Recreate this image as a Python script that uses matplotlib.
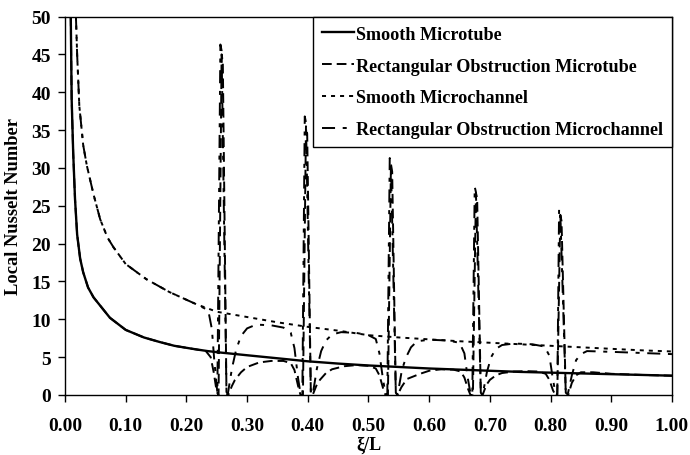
import matplotlib
matplotlib.use("Agg")
import matplotlib.pyplot as plt

plt.rcParams['font.family'] = ['Liberation Serif', 'DejaVu Serif']
plt.rcParams['font.weight'] = 'bold'
plt.rcParams['lines.scale_dashes'] = False

# ---------------- data ----------------
smooth_tube_x = [0.0095, 0.011, 0.0135, 0.0165, 0.020, 0.025, 0.030, 0.038, 0.047, 0.058, 0.074, 0.10,
                 0.13, 0.156, 0.18, 0.21, 0.235, 0.257, 0.30, 0.35, 0.40, 0.45, 0.50,
                 0.55, 0.60, 0.65, 0.70, 0.75, 0.80, 0.85, 0.90, 0.95, 1.00]
smooth_tube_y = [50, 39, 32, 25.9, 21.2, 18.0, 16.2, 14.2, 12.9, 11.8, 10.2, 8.6,
                 7.6, 7.0, 6.5, 6.1, 5.8, 5.6, 5.25, 4.85, 4.45, 4.15, 3.9,
                 3.7, 3.5, 3.35, 3.2, 3.05, 2.95, 2.85, 2.75, 2.65, 2.55]

obst_tube_x = [0.0095, 0.011, 0.0135, 0.0165, 0.020, 0.025, 0.030, 0.038, 0.047, 0.058, 0.074, 0.10,
               0.13, 0.156, 0.18, 0.21, 0.232, 0.240, 0.245, 0.250, 0.253, 0.258, 0.260, 0.266, 0.269,
               0.275, 0.28, 0.29, 0.30, 0.32, 0.34, 0.36, 0.372, 0.378, 0.384, 0.388,
               0.392, 0.397, 0.399, 0.405, 0.408,
               0.414, 0.42, 0.43, 0.44, 0.46, 0.48, 0.50, 0.512, 0.518, 0.524, 0.528,
               0.532, 0.537, 0.539, 0.545, 0.548,
               0.554, 0.563, 0.585, 0.60, 0.62, 0.64, 0.652, 0.658, 0.664, 0.668,
               0.672, 0.677, 0.679, 0.685, 0.688,
               0.694, 0.70, 0.71, 0.72, 0.74, 0.76, 0.78, 0.792, 0.798, 0.804, 0.808,
               0.811, 0.816, 0.818, 0.825, 0.829,
               0.835, 0.842, 0.85, 0.87, 0.90, 0.95, 1.00]
obst_tube_y = [50, 39, 32, 25.9, 21.2, 18.0, 16.2, 14.2, 12.9, 11.8, 10.2, 8.6,
               7.6, 7.0, 6.5, 6.1, 5.8, 5.0, 3.0, 0.4, 0.0, 45.0, 44.0, 0.4, 0.0,
               1.2, 2.0, 3.0, 3.7, 4.3, 4.5, 4.5, 4.2, 3.3, 1.2, 0.0,
               0.0, 35.5, 34.5, 0.3, 0.0,
               1.2, 2.0, 2.9, 3.4, 3.8, 3.95, 3.85, 3.5, 2.6, 0.9, 0.0,
               0.0, 30.5, 29.5, 0.3, 0.0,
               1.0, 2.1, 2.8, 3.2, 3.4, 3.35, 3.1, 2.3, 0.8, 0.0,
               0.0, 26.7, 26.0, 0.3, 0.0,
               1.3, 2.0, 2.6, 2.9, 3.1, 3.15, 3.1, 2.8, 2.0, 0.6, 0.0,
               0.0, 23.8, 23.0, 0.3, 0.0,
               1.6, 2.6, 3.0, 3.0, 2.8, 2.65, 2.55]

smooth_chan_x = [0.018, 0.020, 0.0236, 0.030, 0.036, 0.047, 0.058, 0.070, 0.080, 0.10, 0.134,
                 0.172, 0.216, 0.25, 0.30, 0.35, 0.40, 0.45, 0.50, 0.55, 0.60,
                 0.65, 0.70, 0.75, 0.80, 0.85, 0.90, 0.95, 1.00]
smooth_chan_y = [50, 45, 38.2, 33, 30.3, 26.5, 23.2, 20.8, 19.5, 17.3, 15.3,
                 13.6, 12.0, 11.0, 10.3, 9.6, 9.0, 8.5, 7.9, 7.6, 7.35,
                 7.1, 6.9, 6.7, 6.5, 6.3, 6.1, 5.9, 5.75]

obst_chan_x = [0.018, 0.020, 0.0236, 0.030, 0.036, 0.047, 0.058, 0.070, 0.080, 0.10, 0.134,
               0.172, 0.216, 0.236, 0.242, 0.246, 0.249, 0.251, 0.256, 0.258, 0.266, 0.268,
               0.275, 0.282, 0.29, 0.30, 0.315, 0.34, 0.36, 0.372, 0.378, 0.384, 0.388,
               0.391, 0.395, 0.397, 0.405, 0.408,
               0.415, 0.422, 0.43, 0.44, 0.455, 0.48, 0.50, 0.512, 0.518, 0.524, 0.528,
               0.531, 0.535, 0.537, 0.545, 0.548,
               0.555, 0.562, 0.57, 0.58, 0.60, 0.63, 0.65, 0.658, 0.663, 0.668,
               0.671, 0.675, 0.677, 0.685, 0.688,
               0.695, 0.702, 0.71, 0.72, 0.74, 0.77, 0.79, 0.798, 0.803, 0.808,
               0.811, 0.814, 0.816, 0.825, 0.828,
               0.835, 0.842, 0.85, 0.86, 0.90, 0.95, 1.00]
obst_chan_y = [50, 45, 38.2, 33, 30.3, 26.5, 23.2, 20.8, 19.5, 17.3, 15.3,
               13.6, 12.0, 11.2, 8.7, 4.5, 2.0, 0.3, 46.3, 45.5, 0.3, 0.0,
               3.5, 6.0, 7.8, 8.8, 9.3, 9.2, 8.9, 8.2, 6.2, 2.2, 0.2,
               0.0, 36.8, 36.0, 0.3, 0.0,
               3.5, 5.8, 7.2, 8.0, 8.3, 8.2, 7.9, 7.4, 5.5, 2.0, 0.2,
               0.0, 31.3, 30.5, 0.3, 0.0,
               3.3, 5.0, 6.3, 7.1, 7.3, 7.2, 6.9, 5.5, 2.5, 0.2,
               0.0, 27.5, 26.8, 0.3, 0.0,
               3.0, 5.0, 6.1, 6.6, 6.8, 6.7, 6.4, 5.2, 2.5, 0.2,
               0.0, 24.6, 24.0, 0.3, 0.0,
               2.6, 4.6, 5.4, 5.8, 5.7, 5.55, 5.4]

labels = ["Smooth Microtube", "Rectangular Obstruction Microtube",
          "Smooth Microchannel", "Rectangular Obstruction Microchannel"]
x_ticks = [0.0, 0.1, 0.2, 0.3, 0.4, 0.5, 0.6, 0.7, 0.8, 0.9, 1.0]
y_ticks = [0, 5, 10, 15, 20, 25, 30, 35, 40, 45, 50]

# ---------------- plot ----------------
fig = plt.figure(figsize=(6.9, 4.56), dpi=100)
ax = fig.add_axes([0.0942, 0.1316, 0.8797, 0.8300])

lw = 1.4
ax.plot(smooth_tube_x, smooth_tube_y, color='black', lw=1.7, label=labels[0])
ax.plot(obst_tube_x, obst_tube_y, color='black', lw=lw, dashes=(7, 3.6), label=labels[1])
ax.plot(smooth_chan_x, smooth_chan_y, color='black', lw=lw, dashes=(2.9, 3.6), label=labels[2])
ax.plot(obst_chan_x, obst_chan_y, color='black', lw=lw, dashes=(9.4, 5.5, 2.9, 5.5), label=labels[3])

ax.set_xlim(0, 1)
ax.set_ylim(0, 50)
ax.set_xticks(x_ticks)
ax.set_xticklabels([f"{v:.2f}" for v in x_ticks])
ax.set_yticks(y_ticks)
ax.set_yticklabels([str(v) for v in y_ticks])
ax.tick_params(axis='both', which='major', direction='out', length=5, width=1,
               labelsize=14, pad=5)
for lab in ax.get_xticklabels() + ax.get_yticklabels():
    lab.set_fontweight('bold')
ax.tick_params(axis='x', pad=11)
for sp in ax.spines.values():
    sp.set_linewidth(1.0)

ax.set_xlabel("ξ/L", fontsize=13, fontweight='bold', labelpad=1)
ax.set_ylabel("Local Nusselt Number", fontsize=13.3, fontweight='bold', labelpad=7)

leg = ax.legend(loc='upper right', bbox_to_anchor=(1.0, 1.0), borderaxespad=0,
                fancybox=False, framealpha=1, edgecolor='black',
                prop={'family': 'Liberation Serif', 'weight': 'bold', 'size': 13.1},
                handlelength=1.75, handletextpad=0.12, labelspacing=0.82,
                borderpad=0.5)
leg.get_frame().set_linewidth(1.0)

fig.savefig("out.png", dpi=100)
